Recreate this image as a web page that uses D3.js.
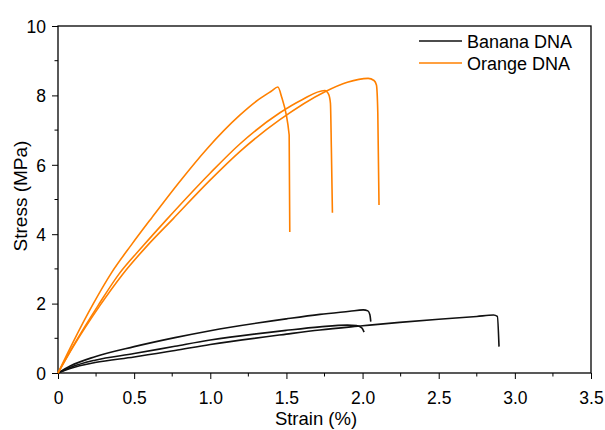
<!DOCTYPE html>
<html>
<head>
<meta charset="utf-8">
<script src="https://cdn.jsdelivr.net/npm/d3@7.9.0/dist/d3.min.js"></script>
<style>
  body { margin: 0; background: #fff; }
  svg text { font-family: Arial, "Liberation Sans", sans-serif; fill: #000; }
</style>
</head>
<body>
<svg id="chart" width="605" height="430"></svg>
<script>
// strain (%) / stress (MPa) pairs
const bananaTop = [[0,0],[0.08,0.2],[0.243,0.47],[0.5,0.76],[0.768,1.02],[1.0,1.22],[1.5,1.56],[1.72,1.69],[1.916,1.78],[2.004,1.82],[2.035,1.79],[2.048,1.68],[2.054,1.48]];
const bananaMid = [[0,0],[0.08,0.16],[0.243,0.37],[0.5,0.56],[0.768,0.77],[1.0,0.95],[1.5,1.23],[1.72,1.33],[1.9,1.38],[1.96,1.37],[1.995,1.30],[2.01,1.18]];
const bananaLong = [[0,0],[0.08,0.13],[0.243,0.30],[0.5,0.46],[0.768,0.65],[1.0,0.82],[1.5,1.12],[1.72,1.24],[2.0,1.36],[2.244,1.46],[2.5,1.55],[2.75,1.63],[2.86,1.67],[2.885,1.63],[2.896,0.76]];

const orangeA = [[0,0],[0.1,0.9],[0.232,2.0],[0.35,2.88],[0.483,3.7],[0.615,4.47],[0.8,5.52],[0.976,6.45],[1.194,7.43],[1.314,7.87],[1.40,8.12],[1.444,8.24],[1.468,7.96],[1.518,6.86],[1.522,4.06]];
const orangeB = [[0,0],[0.1,0.78],[0.264,1.95],[0.4,2.85],[0.556,3.65],[0.713,4.42],[0.997,5.75],[1.194,6.6],[1.457,7.5],[1.6,7.87],[1.752,8.14],[1.778,8.02],[1.789,7.77],[1.795,6.5],[1.802,4.62]];
const orangeC = [[0,0],[0.1,0.76],[0.276,1.95],[0.42,2.82],[0.582,3.65],[0.757,4.45],[0.997,5.55],[1.194,6.38],[1.457,7.3],[1.75,8.1],[1.9,8.38],[2.036,8.49],[2.075,8.43],[2.091,8.30],[2.1,7.5],[2.108,4.84]];

const seriesNames = ["Banana DNA", "Orange DNA"];
const seriesColors = ["#111111", "#ff8000"];
const curves = [
  { data: bananaTop, group: 0 }, { data: bananaMid, group: 0 }, { data: bananaLong, group: 0 },
  { data: orangeA, group: 1 }, { data: orangeB, group: 1 }, { data: orangeC, group: 1 }
];

const xTicks = [0, 0.5, 1.0, 1.5, 2.0, 2.5, 3.0, 3.5];
const yTicks = [0, 2, 4, 6, 8, 10];

const svg = d3.select("#chart");
const m = { left: 58, right: 591, top: 26, bottom: 373 };

const x = d3.scaleLinear().domain([0, 3.5]).range([m.left, m.right]);
const y = d3.scaleLinear().domain([0, 10]).range([m.bottom, m.top]);

// minor ticks
const xMinor = d3.range(0.25, 3.5, 0.5);
const yMinor = d3.range(1, 10, 2);

svg.append("g").selectAll("line").data(xMinor).join("line")
  .attr("x1", d => x(d)).attr("x2", d => x(d))
  .attr("y1", m.bottom).attr("y2", m.bottom + 3.5)
  .attr("stroke", "#000").attr("stroke-width", 1);
svg.append("g").selectAll("line").data(yMinor).join("line")
  .attr("y1", d => y(d)).attr("y2", d => y(d))
  .attr("x1", m.left).attr("x2", m.left - 3.5)
  .attr("stroke", "#000").attr("stroke-width", 1);

const xAxis = svg.append("g").attr("transform", `translate(0,${m.bottom})`)
  .call(d3.axisBottom(x).tickValues(xTicks).tickSize(6).tickPadding(7)
    .tickFormat(d => d === 0 ? "0" : d3.format(".1f")(d)));
const yAxis = svg.append("g").attr("transform", `translate(${m.left},0)`)
  .call(d3.axisLeft(y).tickValues(yTicks).tickSize(6).tickPadding(5));

[xAxis, yAxis].forEach(g => {
  g.select(".domain").remove();
  g.selectAll("line").attr("stroke", "#000").attr("stroke-width", 1);
  g.selectAll("text").attr("font-size", 17.5).attr("fill", "#000")
    .style("font-family", "Arial, 'Liberation Sans', sans-serif");
});
xAxis.selectAll("text").attr("dy", null).attr("y", 30.5);
yAxis.selectAll("text").attr("x", -12).attr("dy", "0.36em");

// frame
svg.append("rect")
  .attr("x", m.left).attr("y", m.top)
  .attr("width", m.right - m.left).attr("height", m.bottom - m.top)
  .attr("fill", "none").attr("stroke", "#000").attr("stroke-width", 1.3);

const line = d3.line().x(d => x(d[0])).y(d => y(d[1])).curve(d3.curveMonotoneX);

svg.append("g").selectAll("path").data(curves).join("path")
  .attr("d", d => line(d.data))
  .attr("fill", "none")
  .attr("stroke", d => seriesColors[d.group])
  .attr("stroke-width", 1.6)
  .attr("stroke-linejoin", "round");

// axis titles
svg.append("text")
  .attr("x", 316).attr("y", 425)
  .attr("text-anchor", "middle").attr("font-size", 18.5)
  .text("Strain (%)");
svg.append("text")
  .attr("transform", `translate(27,196) rotate(-90)`)
  .attr("text-anchor", "middle").attr("font-size", 19)
  .text("Stress (MPa)");

// legend
const legend = svg.append("g");
seriesNames.forEach((name, i) => {
  const ly = 41 + i * 22;
  legend.append("line")
    .attr("x1", 419).attr("x2", 462).attr("y1", ly).attr("y2", ly)
    .attr("stroke", seriesColors[i]).attr("stroke-width", 1.3);
  legend.append("text")
    .attr("x", 467).attr("y", ly + 6.5)
    .attr("font-size", 18)
    .text(name);
});
</script>
</body>
</html>
